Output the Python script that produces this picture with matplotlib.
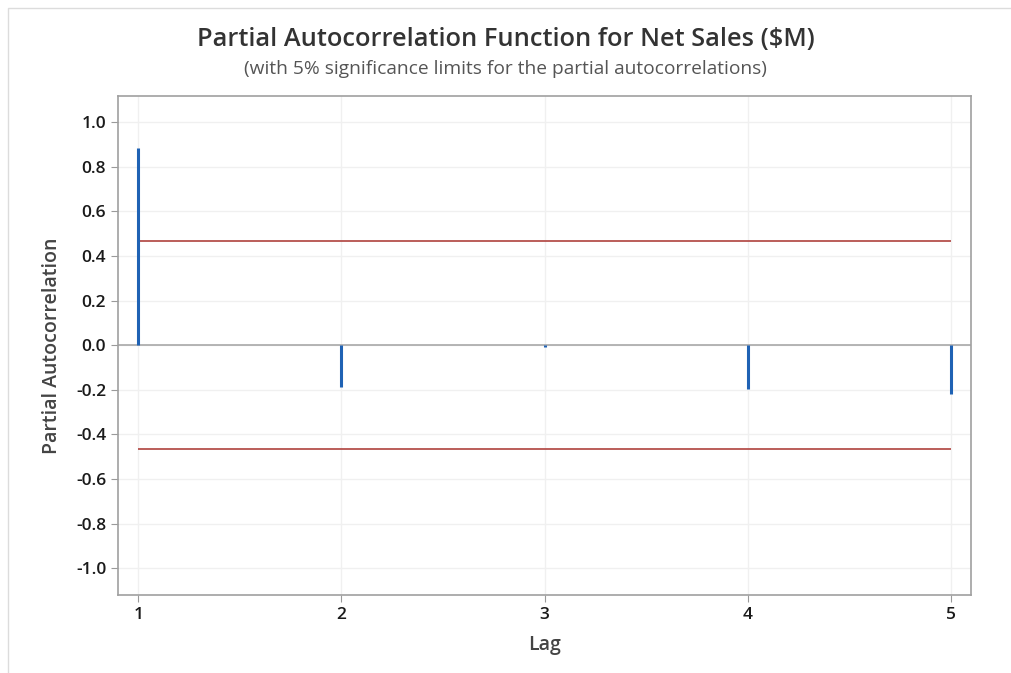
import numpy as np
import matplotlib
matplotlib.use("Agg")
import matplotlib.pyplot as plt
from matplotlib.patches import Rectangle

# values
lags = [1, 2, 3, 4, 5]
pacf = [0.883, -0.187, -0.010, -0.197, -0.221]
sig_limit = 0.466
y_ticks = [1.0, 0.8, 0.6, 0.4, 0.2, 0.0, -0.2, -0.4, -0.6, -0.8, -1.0]

plt.rcParams['font.family'] = ['Open Sans', 'DejaVu Sans']

fig = plt.figure(figsize=(10.11, 6.73), dpi=100)
ax = fig.add_axes([118 / 1011, 1 - 595 / 673, (971 - 118) / 1011, (595 - 96) / 673])

# light frame around the whole graph window
fig.patches.append(Rectangle((8 / 1011, -0.01), 1.0, 1 - 8 / 673 + 0.01,
                             transform=fig.transFigure, fill=False,
                             edgecolor='#dcdcdc', linewidth=1.0))

ax.set_xlim(0.9, 5.1)
ax.set_ylim(-1.12, 1.117)

ax.grid(True, color='#f0f0f0', linewidth=1.0)
ax.set_axisbelow(True)
ax.axhline(0, color='#a8a8a8', linewidth=1.2, zorder=1)

ax.vlines(lags, 0, pacf, color='#1f62b4', linewidth=2.2, zorder=3)
ax.hlines([sig_limit, -sig_limit], lags[0], lags[-1], color='#b5504c', linewidth=1.3, zorder=2)

ax.set_xticks(lags)
ax.set_yticks(y_ticks)
ax.set_yticklabels([f"{v:.1f}" for v in y_ticks])
ax.tick_params(axis='both', colors='#9a9a9a', labelcolor='#1a1a1a', labelsize=12.5, length=5)
for lab in ax.get_xticklabels() + ax.get_yticklabels():
    lab.set_fontweight('semibold')

for s in ax.spines.values():
    s.set_color('#a0a0a0')
    s.set_linewidth(1.2)

ax.set_xlabel('Lag', fontsize=14, color='#444444', fontweight='semibold', labelpad=9)
ax.set_ylabel('Partial Autocorrelation', fontsize=14, color='#444444', fontweight='semibold', labelpad=10)

fig.text(0.5, 1 - 40 / 673, 'Partial Autocorrelation Function for Net Sales ($M)',
         ha='center', va='center', fontsize=18.3, color='#333333', fontweight='semibold')
fig.text(0.5, 1 - 69 / 673, '(with 5% significance limits for the partial autocorrelations)',
         ha='center', va='center', fontsize=13.8, color='#555555')

fig.savefig('out.png', dpi=100)
